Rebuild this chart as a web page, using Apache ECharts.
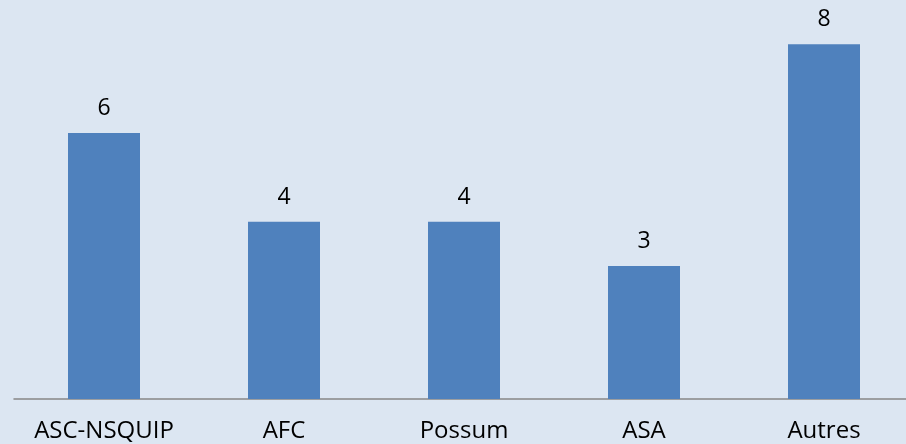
<!DOCTYPE html>
<html>
<head>
<meta charset="utf-8">
<script src="https://cdn.jsdelivr.net/npm/echarts@6/dist/echarts.min.js"></script>
<style>
html,body{margin:0;padding:0;background:#dce6f2;}
#main{width:906px;height:444px;}
</style>
</head>
<body>
<div id="main"></div>
<script>
const categories = ['ASC-NSQUIP', 'AFC', 'Possum', 'ASA', 'Autres'];
const values = [6, 4, 4, 3, 8];

const chart = echarts.init(document.getElementById('main'), null, {renderer: 'canvas'});
chart.setOption({
  animation: false,
  backgroundColor: '#dce6f2',
  grid: {left: 14, width: 900, top: 0, height: 399, containLabel: false, outerBoundsMode: 'none'},
  xAxis: {
    type: 'category',
    data: categories,
    axisLine: {show: true, lineStyle: {color: '#868686', width: 1.5}},
    axisTick: {show: false},
    axisLabel: {interval: 0, hideOverlap: false, color: '#000', fontFamily: '"Open Sans", sans-serif', fontSize: 24, margin: 20}
  },
  yAxis: {
    type: 'value',
    min: 0, max: 9,
    show: false,
    splitLine: {show: false}
  },
  series: [{
    type: 'bar',
    data: values,
    barWidth: '40%',
    itemStyle: {color: '#4f81bd'},
    label: {show: true, position: 'top', distance: 13, color: '#000', fontFamily: '"Open Sans", sans-serif', fontSize: 23}
  }]
});
</script>
</body>
</html>
